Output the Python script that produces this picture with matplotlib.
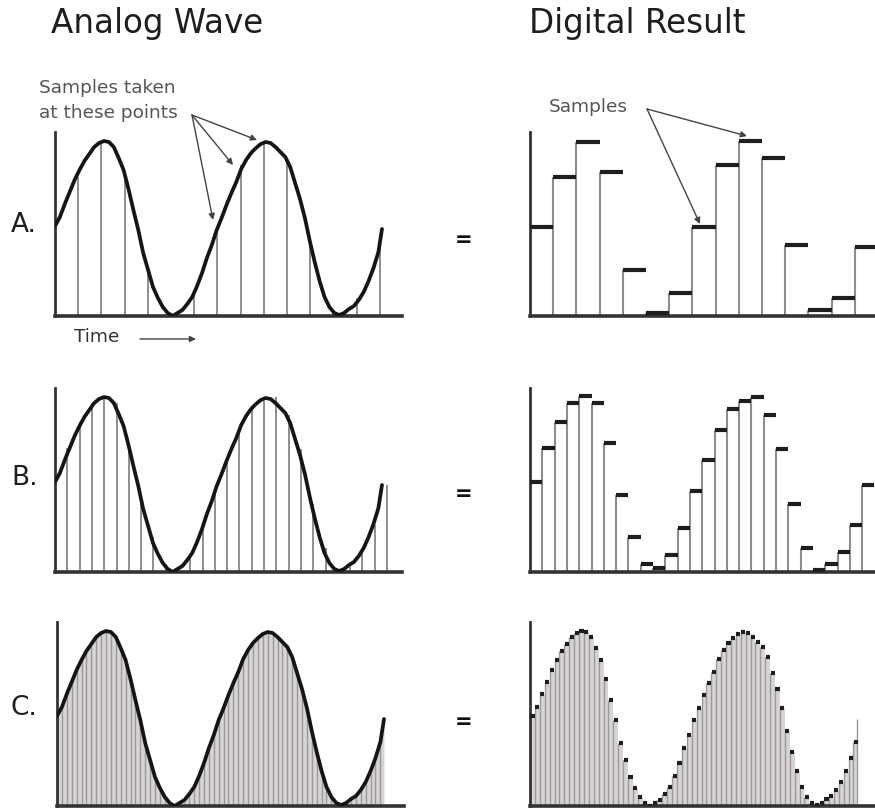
import matplotlib
matplotlib.use("Agg")
import matplotlib.pyplot as plt
import numpy as np

# ---------------- data (sample heights) ----------------
row_labels = ["A.", "B.", "C."]
titles = ["Analog Wave", "Digital Result"]

a_dt = 23.2
a_vals = [89, 139, 174, 144, 46, 3, 23, 89, 151, 175, 158, 71, 6, 18, 69]

b_dt = 12.3
b_vals = [90, 124, 150, 169, 176, 169, 129, 77, 35, 8, 4, 17, 44, 81,
          112, 142, 163, 171, 175, 157, 123, 68, 24, 2, 8, 20, 47, 87]

c_dt = 4.9
c_vals = [90, 99, 112, 124, 136, 146, 155, 162, 169, 173, 175, 174, 169, 158,
          146, 127, 106, 86, 63, 46, 29, 18, 9, 3, 0, 3, 6, 12, 19, 30, 43, 58,
          71, 86, 98, 111, 123, 134, 147, 156, 163, 168, 172, 174, 173, 169,
          164, 159, 149, 133, 117, 98, 75, 54, 35, 19, 9, 3, 1, 3, 7, 10, 16,
          24, 35, 48, 64]
c_end_t = 327.0
c_end_val = 87

# ---------------- layout ----------------
W, H = 875, 808
fig = plt.figure(figsize=(W / 100, H / 100), dpi=100)
fig.patch.set_facecolor("white")

AX_H = 184
AXIS_COL = "#333333"
STEM_COL = "#8e8e8e"
TICK_COL = "#1e1e1e"
FILL_COL = "#d9d4d4"
TEXT_GRAY = "#555555"
TITLE_FONT = ["DejaVu Sans"]


def fx(x):
    return x / W


def fy(y):
    return 1 - y / H


def make_axes(x0, base, w):
    ax = fig.add_axes([x0 / W, (H - base) / H, w / W, AX_H / H])
    ax.set_xlim(0, w)
    ax.set_ylim(0, AX_H)
    for s in ("top", "right"):
        ax.spines[s].set_visible(False)
    ax.spines["left"].set_linewidth(2.0)
    ax.spines["left"].set_color(AXIS_COL)
    ax.spines["bottom"].set_linewidth(2.6)
    ax.spines["bottom"].set_color(AXIS_COL)
    ax.set_xticks([])
    ax.set_yticks([])
    ax.patch.set_alpha(0)
    return ax


wave_t = np.append(np.arange(len(c_vals)) * c_dt, c_end_t)
wave_v = np.append(np.array(c_vals, float), c_end_val)

rows = [
    (316, 55, a_dt, a_vals, False, 3.0),
    (572, 55, b_dt, b_vals, False, 3.0),
    (806, 57, c_dt, c_vals, True, 3.0),
]

axes_left = []
axes_right = []
for base, lx, dt, vals, dense, tick_lw in rows:
    vals = np.array(vals, float)
    t = np.arange(len(vals)) * dt

    # ---- analog (left) ----
    axl = make_axes(lx, base, 347)
    if dense:
        axl.fill_between(wave_t, 0, wave_v, color=FILL_COL, lw=0, zorder=1)
        axl.vlines(t, 0, vals, color="#9a9a9a", lw=1.0, zorder=2)
    else:
        axl.vlines(t, 0, vals, color=STEM_COL, lw=1.4, zorder=2)
    axl.plot(wave_t, wave_v, color="#151515", lw=2.7, zorder=3,
             solid_capstyle="round", solid_joinstyle="round")
    axes_left.append(axl)

    # ---- digital (right) ----
    axr = make_axes(530, base, 350)
    if dense:
        st = np.append(t, c_end_t)
        sv = np.append(vals, c_end_val)
        axr.fill_between(np.append(t, c_end_t), 0, np.append(vals, vals[-1]),
                         step="post", color=FILL_COL, lw=0, zorder=1)
        axr.vlines(st, 0, sv, color="#9a9a9a", lw=1.0, zorder=2)
        axr.hlines(vals, t + 0.4, t + dt - 0.4, color=TICK_COL, lw=tick_lw,
                   zorder=3)
    else:
        axr.vlines(t, 0, vals, color=STEM_COL, lw=1.5, zorder=2)
        axr.hlines(vals, t, t + dt, color=TICK_COL, lw=tick_lw, zorder=3)
    axes_right.append(axr)

# ---------------- texts ----------------
fig.text(fx(51), fy(24), titles[0], fontsize=23.5, color="#1e1e1e",
         family=TITLE_FONT, ha="left", va="center")
fig.text(fx(529), fy(24), titles[1], fontsize=23.5, color="#1e1e1e",
         family=TITLE_FONT, ha="left", va="center")

for lab, y in zip(row_labels, [225, 478, 708]):
    fig.text(fx(11), fy(y), lab, fontsize=19, color="#1e1e1e",
             family=TITLE_FONT, ha="left", va="center")

for y in [240, 494, 722]:
    fig.text(fx(464), fy(y), "=", fontsize=15, fontweight="bold",
             color="#111111", ha="center", va="center")

fig.text(fx(39), fy(88), "Samples taken", fontsize=13.3, color=TEXT_GRAY,
         ha="left", va="center")
fig.text(fx(39), fy(113), "at these points", fontsize=13.3, color=TEXT_GRAY,
         ha="left", va="center")
fig.text(fx(549), fy(107), "Samples", fontsize=13.3, color=TEXT_GRAY,
         ha="left", va="center")
fig.text(fx(74), fy(337), "Time", fontsize=13.3, color="#333333",
         ha="left", va="center")

arrow_kw = dict(arrowstyle="-|>", lw=1.0, color="#444444", shrinkA=0,
                shrinkB=0, mutation_scale=9)

fig.add_artist(matplotlib.patches.FancyArrowPatch(
    (fx(140), fy(339)), (fx(196), fy(339)), transform=fig.transFigure,
    **arrow_kw))

axA = axes_left[0]
for xy in [(158, 96), (178, 151), (202, 176)]:
    axA.annotate("", xy=xy, xycoords="data", xytext=(fx(192), fy(115)),
                 textcoords="figure fraction", arrowprops=arrow_kw,
                 annotation_clip=False)

axD = axes_right[0]
for xy in [(170, 92), (217, 180)]:
    axD.annotate("", xy=xy, xycoords="data", xytext=(fx(647), fy(109)),
                 textcoords="figure fraction", arrowprops=arrow_kw,
                 annotation_clip=False)

fig.savefig("out.png", dpi=100, facecolor="white")
